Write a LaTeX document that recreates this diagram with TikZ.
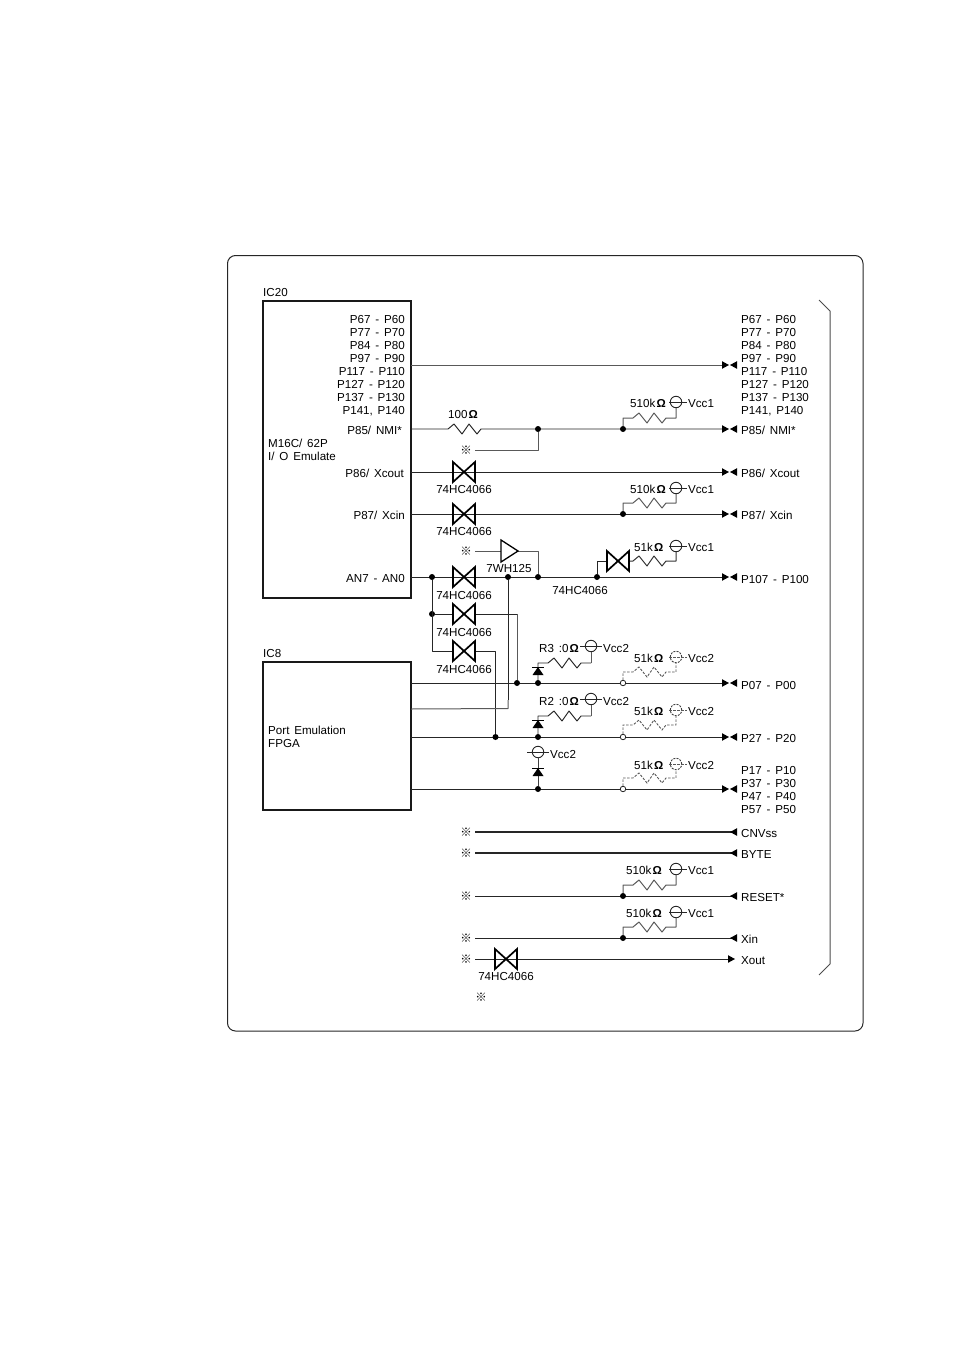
\documentclass[tikz,border=0pt]{standalone}
\usepackage{fontspec}
\setmainfont{Liberation Sans}[WordSpace=1.5]
\newfontfamily\cjkf{Noto Sans CJK JP}
\usetikzlibrary{calc}
\newcommand\OhmS{\hspace{0.1em}{\fontsize{11.5}{11}\selectfont\bfseries Ω}}
\tikzset{
 wire/.style={line width=0.95pt,black!85,line join=round},
 grayw/.style={line width=1pt,black!65,line join=round},
 heavy/.style={line width=1.35pt,black!85},
 dashw/.style={line width=0.9pt,black!65,dash pattern=on 2.5pt off 1.5pt},
 txt/.style={font=\fontsize{11.6}{12}\selectfont,inner sep=0pt,text=black,text height=8.2pt,text depth=0pt,yshift=-0.5pt},
 lab/.style={txt,anchor=west},
 rlab/.style={txt,anchor=east},
 clab/.style={txt,anchor=center},
 chip/.style={draw,line width=2.3pt,black!90,inner sep=0pt},
 jdot/.style={circle,fill=black,inner sep=0pt,minimum size=6pt},
 odot/.style={circle,draw=black!85,fill=white,line width=0.8pt,inner sep=0pt,minimum size=5.5pt},
 vccnode/.style={circle,draw=black!85,line width=0.9pt,inner sep=0pt,minimum size=11.5pt},
 vccdash/.style={vccnode,dash pattern=on 2pt off 1.2pt,draw=black!75},
 refmark/.style={font=\cjkf\bfseries\fontsize{11.5}{11}\selectfont,inner sep=0pt,text=black},
}
% bowtie switch: name, x, y (horizontal)
\newcommand\swbox[3]{%
 \coordinate (#1) at (#2,#3);
 \draw[line width=1.7pt,black,line join=miter] ($(#1)+(-11,-10)$) -- ($(#1)+(11,10)$) -- ($(#1)+(11,-10)$) -- ($(#1)+(-11,10)$) -- cycle;}
\newcommand\arrR[2]{\fill[black] (#1,#2) ++(-7,-3.8) -- ++(7,3.8) -- ++(-7,3.8) -- cycle;}
\newcommand\arrL[2]{\fill[black] (#1,#2) ++(7,-3.8) -- ++(-7,3.8) -- ++(7,3.8) -- cycle;}
\newcommand\arrBoth[2]{\arrR{729}{#2}\arrL{730}{#2}}
% pull-up: prefix, xj, yj, yr, yc, value label, value x, vcc label
\newcommand\pullup[8]{%
 \node[jdot] (#1j) at (#2,#3) {};
 \node[vccnode] (#1c) at ({#2+53},#5) {};
 \draw[grayw] (#1j) -- (#2,#4) -- ++(10,0) -- ++(6,-5) -- ++(8,10) -- ++(7,-10) -- ++(8,10) -- ++(4,-5) -- ++(10,0) -- (#1c);
 \draw[wire,line width=0.8pt] ({#2+46},#5) -- ({#2+64},#5);
 \node[lab] (#1v) at (#7,{#5+1}) {#6\OhmS};
 \node[lab] (#1n) at ({#2+65},{#5+1}) {#8};}
\newcommand\pulldash[8]{%
 \node[odot] (#1j) at (#2,#3) {};
 \node[vccdash] (#1c) at ({#2+53},#5) {};
 \draw[dashw] (#1j) -- (#2,#4) -- ++(10,0) -- ++(6,-5) -- ++(8,10) -- ++(7,-10) -- ++(8,10) -- ++(4,-5) -- ++(10,0) -- (#1c);
 \draw[dashw] ({#2+46},#5) -- ({#2+64},#5);
 \node[lab] (#1v) at (#7,{#5+1}) {#6\OhmS};
 \node[lab] (#1n) at ({#2+65},{#5+1}) {#8};}
\newcommand\diodeS[3]{%
 \fill[black] (#2,#3) ++(-5.5,8) -- ++(11,0) -- ++(-5.5,-8) -- cycle;
 \draw[line width=1pt,black] (#2,#3) ++(-6,0) -- ++(12,0);}
\begin{document}
\begin{tikzpicture}[x=1pt,y=-1pt]
\useasboundingbox (0,0) rectangle (954,1351);
\draw[line width=1pt,black!85,rounded corners=8pt] (227.5,255.5) rectangle (863,1031);
\node[chip,minimum width=148pt,minimum height=297pt] (ic20) at (337,449.5) {};
\node[chip,minimum width=148pt,minimum height=148pt] (ic8) at (337,736) {};
\draw[line width=1pt,black!70] (819,300) -- (830,311) -- (830,964) -- (819,975);
\node[lab] (tic20) at (263,292) {IC20};
\node[lab] (tic8) at (263,653) {IC8};
\node[lab] (t16) at (268,443) {M16C/ 62P};
\node[lab] (tio) at (268,456) {I/ O Emulate};
\node[lab] (tpe) at (268,730) {Port Emulation};
\node[lab] (tfp) at (268,743) {FPGA};
\foreach \i/\t/\y in {a/P67 - P60/319,b/P77 - P70/332,c/P84 - P80/345,d/P97 - P90/358,e/P117 - P110/371,f/P127 - P120/384,g/P137 - P130/397,h/{P141, P140}/410}{
 \node[rlab] (l\i) at (405,\y) {\t};
 \node[lab] (r\i) at (741,\y) {\t};}
\node[rlab] (l85) at (402,430) {P85/ NMI*};
\node[rlab] (l86) at (404,473) {P86/ Xcout};
\node[rlab] (l87) at (405,515) {P87/ Xcin};
\node[rlab] (lan) at (405,578) {AN7 - AN0};
\node[lab] (r85) at (741,430) {P85/ NMI*};
\node[lab] (r86) at (741,473) {P86/ Xcout};
\node[lab] (r87) at (741,515) {P87/ Xcin};
\node[lab] (r107) at (741,579) {P107 - P100};
\node[lab] (r07) at (741,685) {P07 - P00};
\node[lab] (r27) at (741,738) {P27 - P20};
\node[lab] (r17) at (741,770) {P17 - P10};
\node[lab] (r37) at (741,783) {P37 - P30};
\node[lab] (r47) at (741,796) {P47 - P40};
\node[lab] (r57) at (741,809) {P57 - P50};
\node[lab] (rcn) at (741,833) {CNVss};
\node[lab] (rby) at (741,854) {BYTE};
\node[lab] (rre) at (741,897) {RESET*};
\node[lab] (rxi) at (741,939) {Xin};
\node[lab] (rxo) at (741,960) {Xout};
% end coordinates
\foreach \n/\y in {e365/365,e429/429,e472/472,e514/514,e577/577,e683/683,e737/737,e789/789}{\coordinate (\n) at (724,\y);}
\foreach \n/\y in {b365/365,b429/429,b472/472,b514/514,b577/577,b683/683,b709/709,b737/737,b789/789}{\coordinate (\n) at (411,\y);}
% main wires
\draw[grayw] (b365) -- (e365);
\draw[wire] (b429) -- (448,429) -- ++(6,-5) -- ++(8,10) -- ++(7,-10) -- ++(8,10) -- ++(4,-5) -- (e429);
\draw[wire] (b472) -- (e472);
\draw[wire] (b514) -- (e514);
\draw[wire] (b577) -- (e577);
\draw[wire] (b683) -- (e683);
\draw[wire] (b737) -- (e737);
\draw[wire] (b789) -- (e789);
% left extra
\node[jdot] (j538a) at (538,429) {};
\node[refmark] (m1) at (466,450) {※};
\draw[grayw] (475,450) -- (538,450) -- (j538a);
\node[clab] (t100) at (463,414) {100\OhmS};
\pullup{pa}{623}{429}{418}{402}{510k}{630}{Vcc1}
\pullup{pb}{623}{514}{503}{488}{510k}{630}{Vcc1}
\swbox{s1}{464}{472}\node[clab] (ts1) at (464,489) {74HC4066};
\swbox{s2}{464}{514}\node[clab] (ts2) at (464,531) {74HC4066};
% buffer
\node[refmark] (m2) at (466,551) {※};
\coordinate (bi) at (501,551);
\coordinate (bo) at (518,551);
\draw[grayw] (475,551) -- (bi);
\node[jdot] (j538b) at (538,577) {};
\draw[grayw] (bo) -- (538,551) -- (j538b);
\draw[line width=1.3pt,black,line join=miter,fill=white] (501,540) -- (518,551) -- (501,562) -- cycle;
\node[clab] (t7w) at (509,568) {7WH125};
% junctions on AN line
\node[jdot] (j432) at (432,577) {};
\node[jdot] (j508) at (508,577) {};
\node[jdot] (j432b) at (432,614) {};
\node[jdot] (j597) at (597,577) {};
\node[jdot] (j517) at (517,683) {};
\node[jdot] (j495) at (495.5,737) {};
\draw[wire] (j432) -- (432,651) -- (453,651);
\draw[wire] (j432b) -- (453,614);
\draw[wire] (475,614) -- (517,614);
\draw[grayw] (517,614) -- (j517);
\draw[wire] (475,651) -- (495.5,651) -- (j495);
\draw[wire] (j508) -- (508,700);
\draw[grayw] (508,700) -- (508,708.5) -- (b709);
\swbox{s3}{464}{577}\node[clab] (ts3) at (464,595) {74HC4066};
\swbox{s4}{464}{614}\node[clab] (ts4) at (464,632) {74HC4066};
\swbox{s5}{464}{651}\node[clab] (ts5) at (464,669) {74HC4066};
% P107 branch
\node[vccnode] (vp) at (676,546) {};
\draw[wire] (j597) -- (597,561) -- (607,561);
\draw[grayw,black!80] (629,561) -- ++(4,0) -- ++(6,-5) -- ++(8,10) -- ++(7,-10) -- ++(8,10) -- ++(4,-5) -- (676,561) -- (vp);
\draw[wire,line width=0.8pt] (669,546) -- (687,546);
\swbox{s6}{618}{561}
\node[clab] (ts6) at (580,590) {74HC4066};
\node[lab] (t51) at (634,547) {51k\OhmS};
\node[lab] (tvp) at (688,547) {Vcc1};
% R3, R2
\node[jdot] (d1) at (538,683) {};
\node[vccnode] (v1) at (591,646) {};
\draw[wire] (d1) -- (538,663) -- (548,663) -- ++(6,-5) -- ++(8,10) -- ++(7,-10) -- ++(8,10) -- ++(4,-5) -- (591,663);
\draw[grayw] (591,663) -- (v1);
\draw[wire,line width=0.8pt] (580,646) -- (602,646);
\diodeS{dd1}{538}{667}
\node[lab] (tr3) at (539,648) {R3 :0\OhmS};
\node[lab] (tv3) at (603,648) {Vcc2};
\node[jdot] (d2) at (538,737) {};
\node[vccnode] (v2) at (591,699) {};
\draw[wire] (d2) -- (538,716) -- (548,716) -- ++(6,-5) -- ++(8,10) -- ++(7,-10) -- ++(8,10) -- ++(4,-5) -- (591,716);
\draw[grayw] (591,716) -- (v2);
\draw[wire,line width=0.8pt] (580,699) -- (602,699);
\diodeS{dd2}{538}{720}
\node[lab] (tr2) at (539,701) {R2 :0\OhmS};
\node[lab] (tv2) at (603,701) {Vcc2};
\node[jdot] (d3) at (538,789) {};
\node[vccnode] (v3) at (538,752) {};
\draw[grayw,black!75] (d3) -- (v3);
\draw[wire,line width=0.8pt] (527,752) -- (549,752);
\diodeS{dd3}{538}{768}
\node[lab] (tv33) at (550,754) {Vcc2};
\pulldash{pc}{623}{683}{672}{657}{51k}{634}{Vcc2}
\pulldash{pd}{623}{737}{725}{710}{51k}{634}{Vcc2}
\pulldash{pe}{623}{789}{778}{764}{51k}{634}{Vcc2}
% lower lines
\foreach \n/\y in {c/832,d/853,e/896,f/938,g/959}{\node[refmark] (m\n) at (466,\y) {※};}
\node[refmark] (mh) at (481,997) {※};
\coordinate (ec) at (732,832);
\coordinate (ed) at (732,853);
\coordinate (ee) at (732,896);
\coordinate (ef) at (732,938);
\coordinate (eg) at (730,959);
\coordinate (sc) at (475,832);
\coordinate (sd) at (475,853);
\coordinate (se) at (475,896);
\coordinate (sf) at (475,938);
\coordinate (sg) at (475,959);
\draw[heavy] (sc) -- (ec);
\draw[heavy] (sd) -- (ed);
\draw[wire] (se) -- (ee);
\draw[wire] (sf) -- (ef);
\draw[wire] (sg) -- (eg);
\pullup{pf}{623}{896}{885}{869}{510k}{626}{Vcc1}
\pullup{pg}{623}{938}{927}{912}{510k}{626}{Vcc1}
\swbox{s7}{506}{959}\node[clab] (ts7) at (506,976) {74HC4066};
% arrowheads
\foreach \y in {365,429,472,514,577,683,737,789}{\arrBoth{0}{\y}}
\foreach \y in {832,853,896,938}{\arrL{730}{\y}}
\arrR{735}{959}
\end{tikzpicture}
\end{document}
